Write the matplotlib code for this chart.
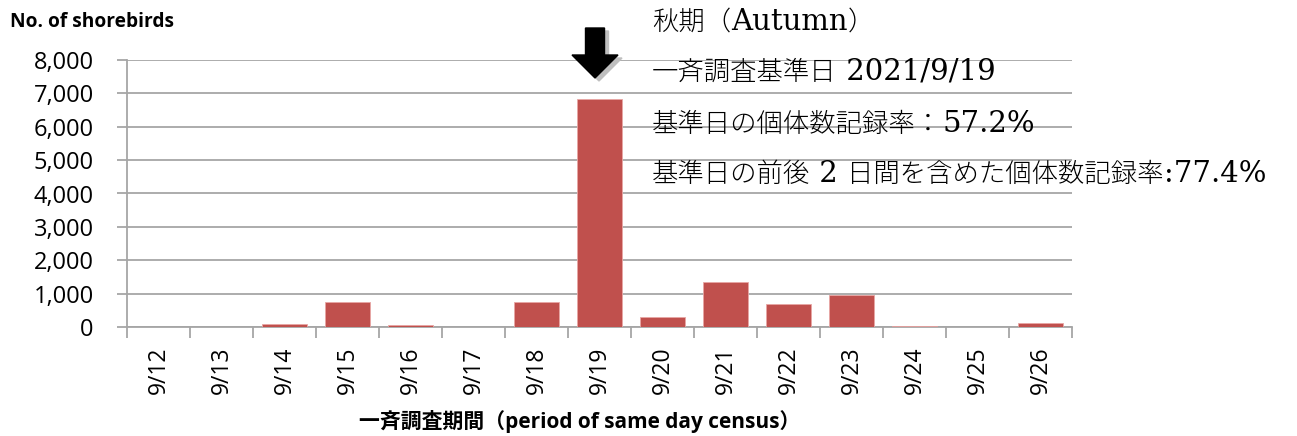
import matplotlib
matplotlib.use("Agg")
import matplotlib.pyplot as plt
import numpy as np

dates = ["9/12", "9/13", "9/14", "9/15", "9/16", "9/17", "9/18", "9/19",
         "9/20", "9/21", "9/22", "9/23", "9/24", "9/25", "9/26"]
counts = [0, 0, 100, 750, 60, 0, 740, 6830, 290, 1350, 680, 960, 15, 0, 120]
yticks = [0, 1000, 2000, 3000, 4000, 5000, 6000, 7000, 8000]
# annotation lines: segments of (text, kind) where kind is 'c' (CJK) or 'l' (Latin)
note1 = [("秋期（", "c"), ("Autumn", "l"), ("）", "c")]
note2 = [("一斉調査基準日", "c"), (" 2021/9/19", "l")]
note3 = [("基準日の個体数記録率：", "c"), ("57.2%", "l")]
note4 = [("基準日の前後", "c"), (" 2 ", "l"), ("日間を含めた個体数記録率", "c"), (":77.4%", "l")]

W, H = 1297, 436
fig = plt.figure(figsize=(W / 100, H / 100), dpi=100)
ax = fig.add_axes([127 / W, 1 - 327 / H, (1072 - 127) / W, (327 - 60) / H])

x = np.arange(len(dates))
ax.bar(x, counts, width=0.7, color="#C0504D", edgecolor="#E8A6A4", linewidth=0.6, zorder=3)

ax.set_ylim(0, 8000)
ax.set_xlim(-0.5, len(dates) - 0.5)
ax.set_yticks(yticks)
ax.set_yticklabels([f"{v:,}" for v in yticks], fontsize=17, family=["Open Sans"])
ax.yaxis.grid(True, color="#A6A6A6", linewidth=1.3, zorder=0)
ax.set_axisbelow(True)

ax.set_xticks(x)
ax.set_xticklabels(dates, rotation=90, fontsize=16.5, family=["Open Sans"])
ax.tick_params(axis="x", length=0, pad=14)
ax.set_xticks(np.arange(-0.5, len(dates)), minor=True)
ax.tick_params(axis="x", which="minor", length=8, color="#A6A6A6", width=1.3)
ax.tick_params(axis="y", length=7, color="#A6A6A6", width=1.3, pad=17)

for s in ["top", "right"]:
    ax.spines[s].set_visible(False)
for s in ["left", "bottom"]:
    ax.spines[s].set_color("#A6A6A6")
    ax.spines[s].set_linewidth(1.3)

fig.text(10 / W, 1 - 22 / H, "No. of shorebirds", fontsize=13.8, fontweight="bold",
         family=["Open Sans"], va="center", ha="left")
fig.text(580 / W, 1 - 421 / H, "一斉調査期間（period of same day census）", fontsize=15,
         fontweight="bold", family=["Open Sans", "Noto Sans CJK JP"], va="center", ha="center")

renderer = fig.canvas.get_renderer()
baselines = [30, 80, 132, 182]
for segs, yb in zip([note1, note2, note3, note4], baselines):
    xpos = 652.0
    for txt, kind in segs:
        if kind == "c":
            kw = dict(fontsize=19, family=["Noto Sans CJK JP"], fontweight="light")
        else:
            kw = dict(fontsize=21, family=["DejaVu Serif"])
        t = fig.text(xpos / W, 1 - yb / H, txt, va="baseline", ha="left", **kw)
        bb = t.get_window_extent(renderer=renderer)
        xpos += bb.width

# arrow with shadow
for dx, dy, col in [(4, 3, "#BFBFBF"), (0, 0, "black")]:
    fig.patches.append(matplotlib.patches.FancyArrow(
        (595 + dx) / W, 1 - (28 + dy) / H, 0, -(50) / H,
        width=19 / W, head_width=46 / W, head_length=23 / H,
        length_includes_head=True, color=col, transform=fig.transFigure, figure=fig))

fig.savefig("out.png", dpi=100)
